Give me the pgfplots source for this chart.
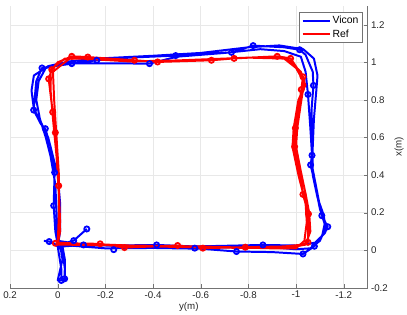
\documentclass[border=0pt]{standalone}
\usepackage{fontspec}
\setmainfont{Liberation Sans}
\usepackage{pgfplots}
\pgfplotsset{compat=1.18}

\definecolor{axgray}{RGB}{38,38,38}

\begin{document}
\begin{tikzpicture}
\begin{axis}[
    scale only axis, width=359bp, height=283bp,
    x dir=reverse,
    xmin=-1.3, xmax=0.2, ymin=-0.2, ymax=1.3,
    xtick={-1.2,-1,-0.8,-0.6,-0.4,-0.2,0,0.2},
    ytick={-0.2,0,0.2,0.4,0.6,0.8,1,1.2},
    axis x line*=bottom, axis y line*=right,
    axis line style={-, draw=black!55},
    tick style={draw=black!55},
    major tick length=3.5bp,
    grid=major, grid style={gray!18, line width=0.5pt},
    tick label style={font=\fontsize{9.8}{11}\selectfont, text=axgray},
    /pgf/number format/assume math mode=true,
    xlabel={y(m)}, ylabel={x(m)},
    label style={font=\fontsize{9.8}{11}\selectfont, text=axgray},
    xlabel style={yshift=3bp},
    legend style={at={(0.986,0.979)}, anchor=north east, draw=black!55,
        font=\fontsize{10.5}{12}\selectfont, inner sep=2pt, row sep=0.5pt},
    legend cell align=left,
    legend image code/.code={\draw[#1] (0bp,0bp) -- (27bp,0bp);},
]
% Vicon trajectory (several laps)
\addplot[color=blue, line width=2pt, line join=round] coordinates {
(0.058,0.05) (0.036,0.046) (0.02,0.04) (0.0,0.02) (-0.015,-0.1) (-0.015,-0.161) (-0.029,-0.152) (-0.03,-0.05) (-0.02,0.02)
(-0.108,0.028) (-0.235,0.025) (-0.415,0.028) (-0.575,0.02) (-0.861,0.028) (-1.0,0.025) (-1.08,0.04) (-1.12,0.09) (-1.133,0.125) (-1.108,0.184) (-1.09,0.3) (-1.067,0.45) (-1.065,0.6) (-1.065,0.75) (-1.073,0.877) (-1.07,0.95) (-1.04,1.04) (-1.015,1.067) (-0.95,1.08) (-0.82,1.089) (-0.729,1.053) (-0.5,1.036) (-0.3,1.025) (-0.164,1.011) (-0.059,0.993) (0.066,0.97) (0.09,0.9) (0.101,0.746) (0.07,0.67) (0.052,0.647) (0.03,0.55) (0.013,0.414) (0.017,0.237) (0.01,0.1) (0.0,0.03)
(-0.2,0.01) (-0.4,0.012) (-0.6,0.008) (-0.75,-0.007) (-0.9,-0.01) (-1.029,-0.02) (-1.077,0.021) (-1.11,0.08) (-1.12,0.14) (-1.1,0.22) (-1.08,0.35) (-1.061,0.454) (-1.067,0.505) (-1.06,0.65) (-1.05,0.829) (-1.04,0.95) (-1.02,1.03) (-0.95,1.06) (-0.85,1.07) (-0.7,1.05) (-0.5,1.03) (-0.385,0.993) (-0.2,0.995) (-0.05,0.995) (0.05,0.97) (0.08,0.9) (0.09,0.8) (0.075,0.7) (0.05,0.6) (0.03,0.5) (0.01,0.35) (0.005,0.2) (0.0,0.05)
(-0.105,0.03) (-0.3,0.02) (-0.5,0.02) (-0.7,0.015) (-0.85,0.02) (-1.0,0.005) (-1.06,0.01) (-1.1,0.05) (-1.125,0.12) (-1.115,0.19) (-1.09,0.28) (-1.07,0.4) (-1.07,0.55) (-1.075,0.7) (-1.085,0.85) (-1.09,0.93) (-1.075,1.02) (-1.03,1.07) (-0.93,1.09) (-0.8,1.08) (-0.6,1.05) (-0.4,1.035) (-0.165,1.02) (-0.05,1.005) (0.04,0.98) (0.1,0.93) (0.11,0.85) (0.1,0.75) (0.07,0.68) (0.04,0.6) (0.02,0.5) (0.0,0.4) (-0.01,0.25) (-0.01,0.1) (0.0,0.02)
(-0.02,0.0) (-0.03,-0.1) (-0.03,-0.16) (0.0,-0.16) (-0.02,-0.05) (-0.01,0.03) (-0.067,0.051) (-0.122,0.113)
};
\addlegendentry{Vicon}
% Ref trajectory
\addplot[color=red, line width=2pt, line join=round] coordinates {
(0.01,0.037) (-0.178,0.034) (-0.28,0.014) (-0.503,0.025) (-0.609,0.011) (-0.787,0.016) (-0.95,0.02) (-1.03,0.03) (-1.05,0.042) (-1.052,0.193) (-1.029,0.297) (-1.01,0.45) (-0.994,0.551) (-0.997,0.65) (-1.01,0.75) (-1.022,0.855) (-1.029,0.923) (-0.977,1.021) (-0.921,1.032) (-0.74,1.021) (-0.645,1.011) (-0.419,1.002) (-0.322,1.011) (-0.126,1.028) (-0.059,1.032) (0.0,1.0) (0.025,0.961) (0.038,0.912) (0.021,0.735) (0.01,0.626) (-0.004,0.343) (-0.01,0.15) (0.0,0.04)
(-0.2,0.03) (-0.4,0.02) (-0.6,0.015) (-0.8,0.012) (-0.98,0.015) (-1.04,0.03) (-1.06,0.1) (-1.055,0.2) (-1.04,0.3) (-1.02,0.42) (-1.0,0.55) (-1.005,0.65) (-1.02,0.78) (-1.035,0.9) (-1.02,0.95) (-0.96,1.02) (-0.9,1.03) (-0.7,1.02) (-0.5,1.01) (-0.3,1.005) (-0.1,1.02) (-0.03,1.02) (0.03,0.96) (0.03,0.85) (0.02,0.7) (0.005,0.5) (-0.005,0.3) (-0.01,0.1) (0.0,0.03)
(-0.3,0.025) (-0.6,0.02) (-0.9,0.01) (-1.0,0.01) (-1.035,0.05) (-1.045,0.15) (-1.04,0.25) (-1.01,0.4) (-0.985,0.55) (-0.99,0.65) (-1.01,0.8) (-1.04,0.88) (-1.0,0.97) (-0.95,1.02) (-0.8,1.025) (-0.6,1.015) (-0.4,1.005) (-0.2,1.015) (-0.06,1.03) (0.02,0.95) (0.015,0.8) (0.005,0.6) (-0.005,0.4) (-0.005,0.2) (0.0,0.03)
};
\addlegendentry{Ref}
% sample markers
\addplot[only marks, mark=o, mark size=2.6pt, color=blue, mark options={line width=1.8pt}, forget plot] coordinates {
(-0.82,1.089) (-1.015,1.067) (-1.073,0.877) (-1.05,0.829) (-1.067,0.505) (-1.061,0.454) (-1.108,0.184) (-1.133,0.125) (-1.077,0.021) (-1.029,-0.02) (-0.861,0.028) (-0.75,-0.007) (-0.575,0.011) (-0.415,0.028) (-0.235,0.003) (-0.108,0.028) (-0.067,0.051) (0.036,0.046) (0.017,0.237) (0.013,0.414) (0.052,0.647) (0.101,0.746) (0.066,0.97) (-0.059,0.993) (-0.164,1.011) (-0.385,0.993) (-0.495,1.036) (-0.729,1.053) (-0.122,0.113) (-0.029,-0.152) (-0.015,-0.161)
};
\addplot[only marks, mark=o, mark size=2.6pt, color=red, mark options={line width=1.8pt}, forget plot] coordinates {
(-0.059,1.032) (-0.126,1.028) (-0.322,1.011) (-0.419,1.002) (-0.645,1.011) (-0.74,1.021) (-0.921,1.032) (-0.977,1.021) (-1.029,0.923) (-1.022,0.855) (-0.997,0.65) (-0.994,0.551) (-1.029,0.297) (-1.052,0.193) (-1.05,0.042) (-0.787,0.016) (-0.609,0.011) (-0.503,0.025) (-0.28,0.014) (-0.178,0.034) (0.01,0.037) (-0.004,0.343) (0.01,0.626) (0.021,0.735) (0.038,0.912) (0.025,0.961)
};
\end{axis}
\path ([yshift=6bp]current axis.north west);
\end{tikzpicture}
\end{document}
